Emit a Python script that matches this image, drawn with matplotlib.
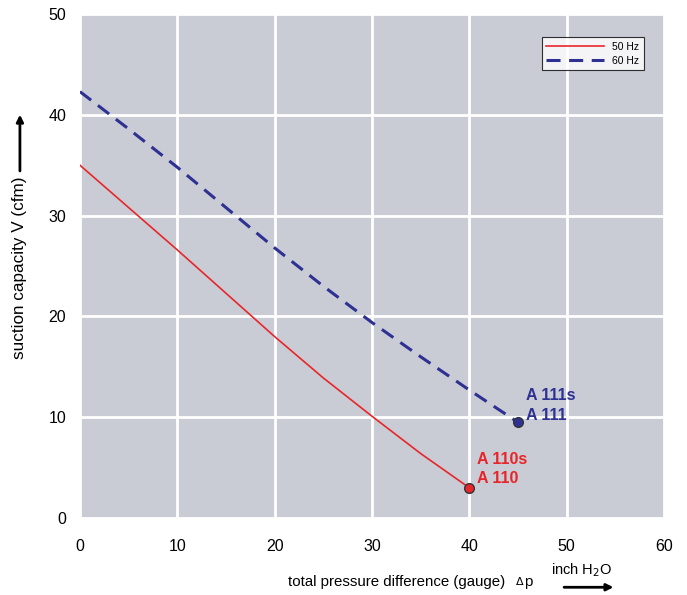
import matplotlib.pyplot as plt

plt.rcParams['font.family'] = ['Liberation Sans', 'DejaVu Sans']

# curve data
dp_50 = [0, 5, 10, 15, 20, 25, 30, 35, 40]
v_50 = [35.0, 30.8, 26.6, 22.3, 18.0, 13.9, 10.1, 6.4, 3.0]
dp_60 = [0, 5, 10, 15, 20, 25, 30, 35, 40, 45]
v_60 = [42.3, 38.6, 34.8, 30.8, 26.8, 23.0, 19.4, 16.0, 12.7, 9.5]
x_ticks = [0, 10, 20, 30, 40, 50, 60]
y_ticks = [0, 10, 20, 30, 40, 50]

red = '#e8262a'
blue = '#2e3192'

fig = plt.figure(figsize=(6.87, 5.95), dpi=100)
ax = fig.add_axes([0.1164, 0.1294, 0.850, 0.847])
ax.set_facecolor('#c9ccd5')

ax.plot(dp_50, v_50, color=red, lw=1.2, label='50 Hz')
ax.plot(dp_60, v_60, color=blue, lw=2.2, ls=(0, (4.6, 2.8)), label='60 Hz')
ax.plot(dp_50[-1], v_50[-1], 'o', color=red, mec='#333333', ms=7, zorder=5)
ax.plot(dp_60[-1], v_60[-1], 'o', color=blue, mec='#333333', ms=7, zorder=5)

ax.text(40.8, 5.8, 'A 110s', color=red, fontsize=11.5, fontweight='bold', va='center')
ax.text(40.8, 3.9, 'A 110', color=red, fontsize=11.5, fontweight='bold', va='center')
ax.text(45.8, 12.2, 'A 111s', color=blue, fontsize=11.5, fontweight='bold', va='center')
ax.text(45.8, 10.2, 'A 111', color=blue, fontsize=11.5, fontweight='bold', va='center')

ax.set_xlim(0, 60)
ax.set_ylim(0, 50)
ax.set_xticks(x_ticks)
ax.set_yticks(y_ticks)
ax.grid(True, color='white', lw=2)
ax.set_axisbelow(True)
for s in ax.spines.values():
    s.set_visible(False)
ax.tick_params(length=0, labelsize=11.5)
ax.tick_params(axis='x', pad=15)
ax.tick_params(axis='y', pad=10)

leg = ax.legend(loc='upper right', bbox_to_anchor=(0.974, 0.964), fontsize=7.5,
                frameon=True, fancybox=False, handlelength=5.5, borderpad=0.45,
                labelspacing=0.35)
leg.get_frame().set_edgecolor('black')
leg.get_frame().set_linewidth(0.8)
leg.get_frame().set_facecolor('white')

# axis labels with arrows
fig.text(0.029, 0.55, 'suction capacity V (cfm)', rotation=90, fontsize=12.3,
         ha='center', va='center')
fig.add_artist(plt.Annotation('', xy=(0.029, 0.812), xytext=(0.029, 0.708),
                              xycoords='figure fraction',
                              arrowprops=dict(arrowstyle='-|>', color='black', lw=2,
                                              mutation_scale=10)))
fig.text(0.419, 0.022, 'total pressure difference (gauge)', fontsize=10.8,
         ha='left', va='center')
fig.text(0.749, 0.024, '$\\Delta$', fontsize=8, ha='left', va='center')
fig.text(0.763, 0.022, 'p', fontsize=10.8, ha='left', va='center')
fig.text(0.846, 0.041, 'inch H$_2$O', fontsize=10.5, ha='center', va='center')
fig.add_artist(plt.Annotation('', xy=(0.897, 0.013), xytext=(0.817, 0.013),
                              xycoords='figure fraction',
                              arrowprops=dict(arrowstyle='-|>', color='black', lw=2,
                                              mutation_scale=10)))

fig.savefig('out.png', dpi=100)
